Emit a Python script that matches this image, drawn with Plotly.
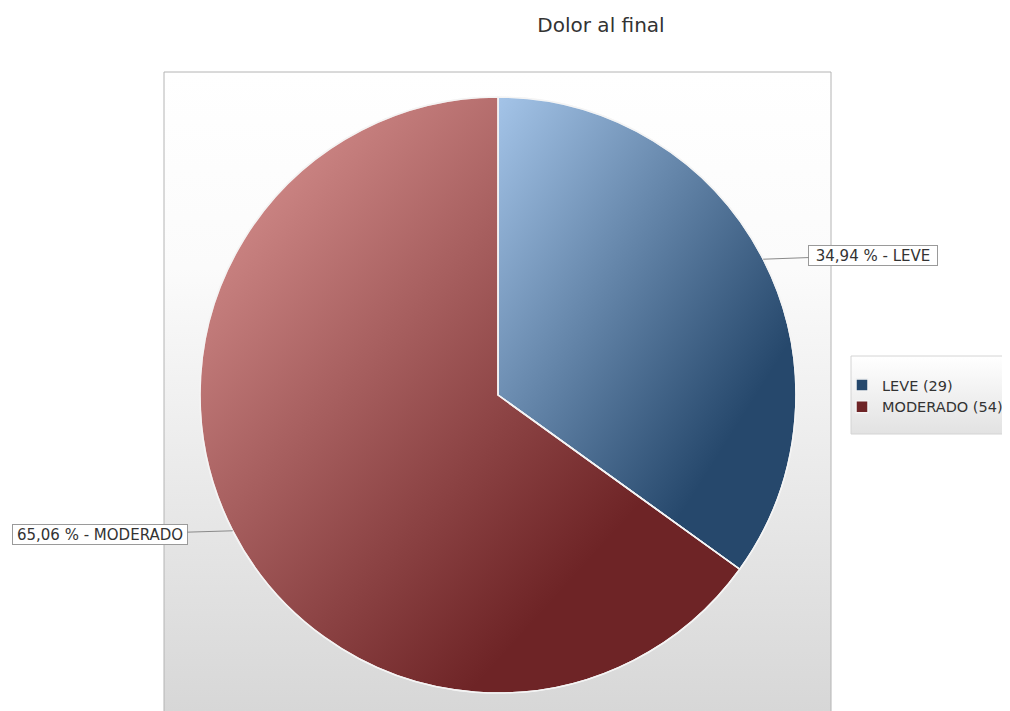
import base64
import math
import plotly.graph_objects as go

# ---- data ----
categories = ["LEVE", "MODERADO"]
counts = [29, 54]
title_text = "Dolor al final"

# ---- style ----
dark_colors = ["#26486c", "#6e2426"]
light_colors = ["#a4c4e8", "#e09a98"]
W, H = 1010, 711
OFF = 8  # page body margin
CX, CY, R = 498 - OFF, 395 - OFF, 298  # pie centre / radius in px (figure coords)

total = sum(counts)
percents = [c / total * 100 for c in counts]
legend_labels = [f"{c} ({v})" for c, v in zip(categories, counts)]
label_texts = [f"{p:.2f}".replace(".", ",") + " % - " + c for p, c in zip(percents, categories)]


def svg_uri(svg):
    return "data:image/svg+xml;base64," + base64.b64encode(svg.encode()).decode()


def px(x):
    return x / W


def py(y):
    return 1 - y / H


fig = go.Figure()
fig.add_trace(go.Pie(
    labels=legend_labels,
    values=counts,
    sort=False,
    direction="clockwise",
    rotation=0,
    textinfo="none",
    marker=dict(colors=dark_colors, line=dict(color="#f4f4f4", width=1.5)),
    domain=dict(x=[px(CX - R), px(CX + R)], y=[py(CY + R), py(CY - R)]),
    hoverinfo="label+percent",
))

# per-slice gradient shine (wedges follow the slice angles from the data)
defs, paths = [], []
start = 90.0
for i, val in enumerate(counts):
    span = val / total * 360
    a0, a1 = math.radians(start), math.radians(start - span)
    start -= span
    x0, y0 = 100 + 100 * math.cos(a0), 100 - 100 * math.sin(a0)
    x1, y1 = 100 + 100 * math.cos(a1), 100 - 100 * math.sin(a1)
    large = 1 if span > 180 else 0
    defs.append(
        f'<linearGradient id="g{i}" x1="0" y1="0" x2="1" y2="1">'
        f'<stop offset="0" stop-color="{light_colors[i]}" stop-opacity="1"/>'
        f'<stop offset="0.75" stop-color="{light_colors[i]}" stop-opacity="0"/>'
        f'</linearGradient>')
    paths.append(
        f'<path d="M100 100 L{x0:.3f} {y0:.3f} A100 100 0 {large} 1 {x1:.3f} {y1:.3f} Z" '
        f'fill="url(#g{i})" stroke="#f4f4f4" stroke-width="0.5" stroke-linejoin="round"/>')
pie_shine = ('<svg xmlns="http://www.w3.org/2000/svg" width="200" height="200" viewBox="0 0 200 200">'
             '<defs>' + "".join(defs) + '</defs>' + "".join(paths) + '</svg>')

plot_bg = '''<svg xmlns="http://www.w3.org/2000/svg" width="100" height="100" viewBox="0 0 100 100" preserveAspectRatio="none">
<defs><linearGradient id="b" x1="0" y1="0" x2="0" y2="1">
<stop offset="0" stop-color="#ffffff"/>
<stop offset="0.3" stop-color="#fbfbfb"/>
<stop offset="1" stop-color="#d6d6d6"/>
</linearGradient></defs>
<rect x="0" y="0" width="100" height="100" fill="url(#b)"/></svg>'''

legend_bg = '''<svg xmlns="http://www.w3.org/2000/svg" width="100" height="100" viewBox="0 0 100 100" preserveAspectRatio="none">
<defs><linearGradient id="l" x1="0" y1="0" x2="0" y2="1">
<stop offset="0" stop-color="#ffffff"/>
<stop offset="1" stop-color="#e2e2e2"/>
</linearGradient></defs>
<rect x="0" y="0" width="100" height="100" fill="url(#l)"/></svg>'''

PX0, PX1, PY0 = 164 - OFF, 831 - OFF, 72 - OFF
LX0, LX1, LY0, LY1 = 851 - OFF, 1012, 356 - OFF, 434 - OFF

images = [
    dict(source=svg_uri(plot_bg), xref="paper", yref="paper", x=px(PX0), y=py(PY0),
         sizex=(PX1 - PX0) / W, sizey=(H - PY0 + 5) / H, xanchor="left", yanchor="top",
         sizing="stretch", layer="below"),
    dict(source=svg_uri(legend_bg), xref="paper", yref="paper", x=px(LX0), y=py(LY0),
         sizex=(LX1 - LX0) / W, sizey=(LY1 - LY0) / H, xanchor="left", yanchor="top",
         sizing="stretch", layer="below"),
    dict(source=svg_uri(pie_shine), xref="paper", yref="paper", x=px(CX - R), y=py(CY - R),
         sizex=2 * R / W, sizey=2 * R / H, xanchor="left", yanchor="top",
         sizing="stretch", layer="above"),
]

shapes = [
    dict(type="rect", xref="paper", yref="paper", x0=px(PX0), x1=px(PX1), y0=-0.02, y1=py(PY0),
         line=dict(color="#b4b4b4", width=1), fillcolor="rgba(0,0,0,0)", layer="below"),
    dict(type="rect", xref="paper", yref="paper", x0=px(LX0), x1=px(LX1), y0=py(LY1), y1=py(LY0),
         line=dict(color="#d4d4d4", width=1), fillcolor="rgba(0,0,0,0)", layer="below"),
]

# outside labels with connectors, anchored at the slice mid-angles
label_offsets = [(110, -4), (-133, 4)]
label_widths = [126, 172]
annotations = []
start = 90.0
for val, txt, (ox, oy), bw in zip(counts, label_texts, label_offsets, label_widths):
    span = val / total * 360
    mid = math.radians(start - span / 2)
    start -= span
    ex = CX + R * math.cos(mid)
    ey = CY - R * math.sin(mid)
    annotations.append(dict(
        x=px(ex), y=py(ey), xref="paper", yref="paper", text=txt,
        showarrow=True, arrowhead=0, arrowwidth=1, arrowcolor="#8a8a8a",
        ax=ox, ay=oy, axref="pixel", ayref="pixel",
        width=bw, height=17, align="center", valign="middle",
        bgcolor="#ffffff", bordercolor="#9a9a9a", borderwidth=1, borderpad=1,
        font=dict(family="DejaVu Sans", size=15, color="#333333"),
    ))

fig.update_layout(
    width=W, height=H,
    margin=dict(l=0, r=0, t=0, b=0),
    paper_bgcolor="#ffffff",
    plot_bgcolor="#ffffff",
    font=dict(family="DejaVu Sans", size=14, color="#333333"),
    title=dict(text=title_text, x=px(601 - OFF), y=py(25 - OFF), xanchor="center", yanchor="middle",
               font=dict(family="DejaVu Sans", size=20, color="#333333")),
    showlegend=True,
    legend=dict(x=px(842 - OFF), y=py(369 - OFF), xanchor="left", yanchor="top",
                bgcolor="rgba(0,0,0,0)", borderwidth=0,
                font=dict(family="DejaVu Sans", size=14.5, color="#333333"),
                itemwidth=30, tracegroupgap=0),
    images=images,
    shapes=shapes,
    annotations=annotations,
)

fig.write_html("out.html")
